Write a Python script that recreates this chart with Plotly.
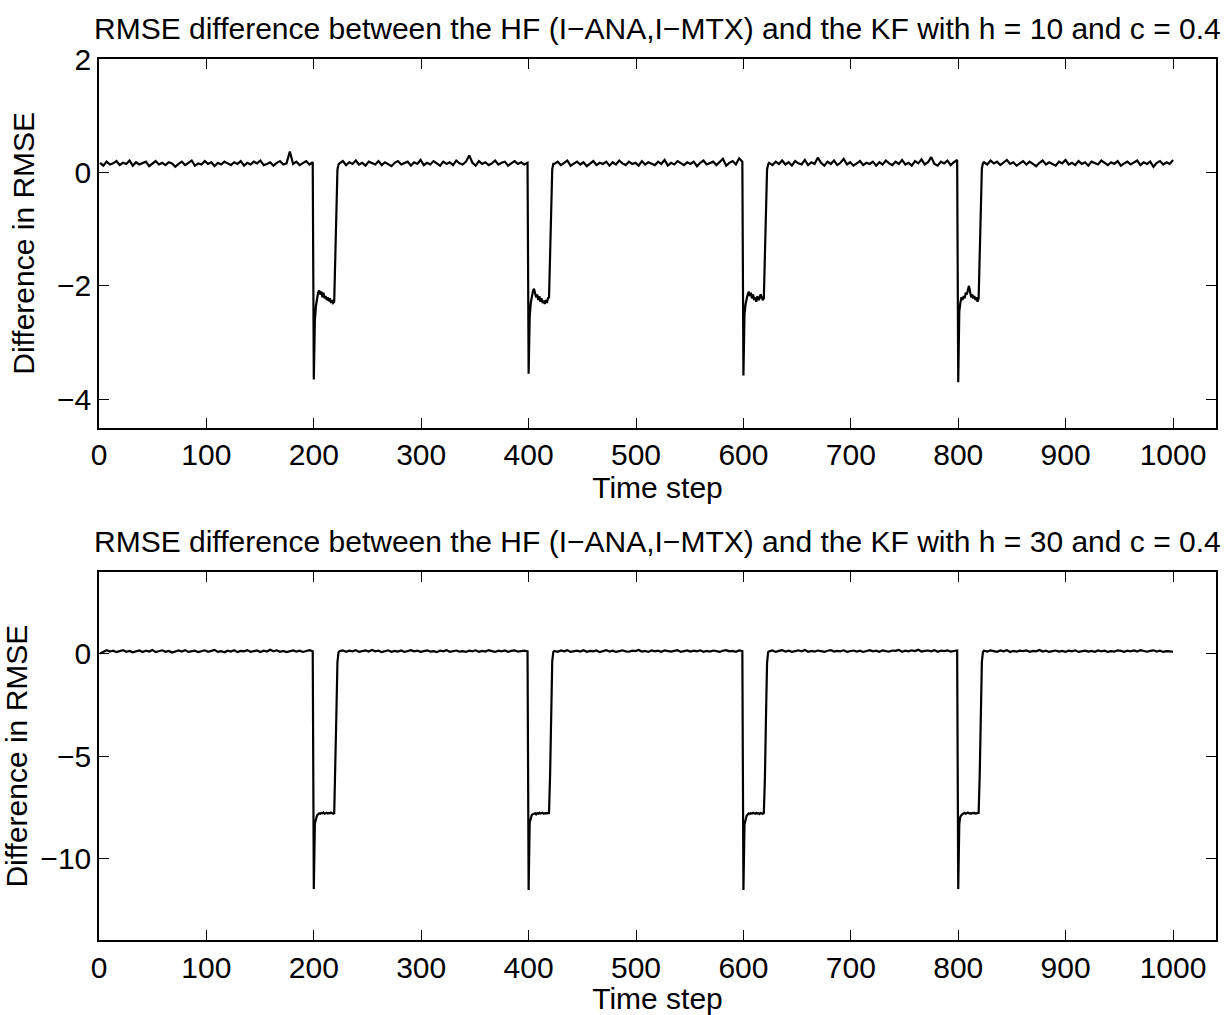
import numpy as np
import plotly.graph_objects as go

# ---------------- data ----------------
# Top panel: h = 10, c = 0.4
top_base_0 = [0.17,0.12,0.19,0.14,0.16,0.20,0.13,0.17,0.15,0.21,0.12,0.18,0.14,0.16,0.19,0.11,0.15,0.20,0.14,0.17,
              0.13,0.18,0.16,0.10,0.15,0.19,0.13,0.17,0.21,0.12,0.16,0.14,0.20,0.15,0.18,0.11,0.17,0.14,0.19,0.16,
              0.13,0.18,0.15,0.20,0.12,0.17,0.14,0.19,0.16,0.21,0.13,0.15,0.18,0.12,0.17,0.20,0.14,0.16,0.37,0.15,
              0.19,0.13,0.17,0.20,0.14,0.18]
top_dip_200 = [-3.65,-2.60,-2.35,-2.20,-2.12,-2.08,-2.15,-2.10,-2.20,-2.12,-2.22,-2.18,-2.25,-2.20,-2.27,-2.22,
               -2.30,-2.25,-2.30,-2.28,-1.50,-0.55,0.05,0.14]
top_base_1 = [0.16,0.20,0.13,0.18,0.15,0.21,0.14,0.17,0.12,0.19,0.16,0.14,0.20,0.13,0.18,0.15,0.11,0.17,0.20,0.14,
              0.16,0.19,0.12,0.18,0.15,0.22,0.13,0.17,0.14,0.20,0.16,0.12,0.19,0.15,0.18,0.13,0.21,0.16,0.14,0.19,
              0.30,0.17,0.12,0.20,0.15,0.18,0.13,0.16,0.21,0.14,0.17,0.19,0.12,0.16,0.20,0.15,0.18,0.14,0.17]
top_dip_400 = [-3.55,-2.55,-2.30,-2.18,-2.10,-2.05,-2.12,-2.20,-2.15,-2.25,-2.18,-2.28,-2.22,-2.30,-2.26,-2.32,
               -2.25,-2.30,-2.22,-2.20,-1.45,-0.50,0.06,0.15]
top_base_2 = [0.15,0.19,0.13,0.17,0.21,0.12,0.16,0.19,0.14,0.18,0.11,0.16,0.20,0.13,0.17,0.15,0.19,0.12,0.18,0.14,
              0.21,0.16,0.13,0.19,0.15,0.17,0.12,0.20,0.14,0.18,0.16,0.13,0.19,0.15,0.22,0.12,0.17,0.14,0.20,0.16,
              0.13,0.18,0.15,0.19,0.11,0.17,0.21,0.14,0.16,0.19,0.13,0.18,0.24,0.12,0.17,0.20,0.14,0.25,0.19]
top_dip_600 = [-3.58,-2.50,-2.32,-2.22,-2.15,-2.10,-2.18,-2.12,-2.22,-2.15,-2.25,-2.20,-2.28,-2.18,-2.25,-2.22,
               -2.15,-2.20,-2.25,-2.22,-1.48,-0.52,0.05,0.14]
top_base_3 = [0.17,0.13,0.19,0.15,0.21,0.14,0.18,0.12,0.20,0.16,0.14,0.22,0.13,0.18,0.15,0.26,0.17,0.12,0.19,0.15,
              0.21,0.13,0.17,0.24,0.14,0.18,0.12,0.16,0.20,0.13,0.17,0.15,0.19,0.12,0.18,0.14,0.21,0.16,0.13,0.19,
              0.15,0.22,0.14,0.17,0.12,0.20,0.16,0.23,0.14,0.18,0.27,0.15,0.12,0.19,0.16,0.21,0.13,0.18,0.22]
top_dip_800 = [-3.70,-2.45,-2.30,-2.20,-2.25,-2.18,-2.22,-2.12,-2.15,-2.05,-2.00,-2.10,-2.20,-2.15,-2.22,-2.18,
               -2.25,-2.20,-2.28,-2.22,-1.45,-0.50,0.07,0.16]
top_base_4 = [0.18,0.14,0.21,0.16,0.19,0.13,0.17,0.22,0.15,0.18,0.12,0.16,0.20,0.14,0.19,0.15,0.11,0.17,0.21,0.14,
              0.18,0.15,0.12,0.19,0.16,0.22,0.14,0.17,0.13,0.20,0.15,0.18,0.12,0.19,0.16,0.14,0.21,0.17,0.13,0.18,
              0.15,0.20,0.12,0.16,0.19,0.14,0.17,0.21,0.13,0.18,0.15,0.19,0.10,0.17,0.20,0.14,0.18,0.15,0.22]

# Bottom panel: h = 30, c = 0.4
bot_base_0 = [0.02,0.10,0.18,0.12,0.16,0.09,0.14,0.19,0.11,0.15,0.08,0.13,0.17,0.10,0.16,0.12,0.20,0.09,0.14,0.18,
              0.11,0.15,0.07,0.13,0.17,0.12,0.19,0.10,0.14,0.16,0.09,0.13,0.18,0.11,0.15,0.20,0.10,0.14,0.08,0.16,
              0.12,0.18,0.09,0.15,0.13,0.19,0.11,0.14,0.17,0.10,0.16,0.12,0.21,0.13,0.18,0.11,0.15,0.09,0.14,0.17,
              0.12,0.16,0.10,0.15,0.19,0.13]
bot_dip_200 = [-11.50,-8.30,-8.00,-7.90,-7.85,-7.80,-7.82,-7.78,-7.80,-7.76,-7.82,-7.79,-7.77,-7.81,-7.78,-7.80,
               -7.76,-7.79,-7.82,-7.80,-6.00,-3.00,-0.40,0.08]
bot_base_1 = [0.14,0.18,0.11,0.16,0.13,0.19,0.10,0.15,0.17,0.12,0.20,0.13,0.16,0.09,0.14,0.18,0.11,0.15,0.12,0.17,
              0.10,0.14,0.19,0.13,0.16,0.11,0.15,0.18,0.12,0.14,0.09,0.16,0.13,0.19,0.11,0.15,0.17,0.12,0.14,0.10,
              0.16,0.13,0.18,0.11,0.15,0.12,0.19,0.14,0.10,0.16,0.13,0.17,0.11,0.15,0.18,0.12,0.14,0.16,0.13]
bot_dip_400 = [-11.55,-8.25,-7.98,-7.88,-7.84,-7.82,-7.80,-7.85,-7.79,-7.82,-7.78,-7.81,-7.80,-7.77,-7.82,-7.79,
               -7.81,-7.78,-7.80,-7.79,-5.90,-2.90,-0.35,0.10]
bot_base_2 = [0.15,0.11,0.17,0.13,0.19,0.10,0.14,0.16,0.12,0.18,0.11,0.15,0.13,0.17,0.09,0.14,0.19,0.12,0.16,0.10,
              0.15,0.18,0.13,0.11,0.16,0.14,0.20,0.12,0.15,0.10,0.17,0.13,0.16,0.11,0.18,0.14,0.12,0.15,0.19,0.10,
              0.14,0.17,0.12,0.16,0.13,0.18,0.11,0.15,0.12,0.17,0.14,0.10,0.16,0.19,0.13,0.15,0.11,0.17,0.14]
bot_dip_600 = [-11.55,-8.35,-8.05,-7.92,-7.86,-7.80,-7.83,-7.79,-7.81,-7.77,-7.80,-7.82,-7.78,-7.81,-7.79,-7.83,
               -7.78,-7.80,-7.82,-7.79,-6.10,-3.10,-0.45,0.09]
bot_base_3 = [0.13,0.17,0.10,0.15,0.19,0.12,0.16,0.11,0.14,0.18,0.13,0.20,0.11,0.15,0.12,0.17,0.14,0.10,0.16,0.19,
              0.12,0.15,0.13,0.18,0.11,0.14,0.17,0.12,0.16,0.10,0.15,0.19,0.13,0.16,0.11,0.18,0.14,0.12,0.17,0.15,
              0.20,0.11,0.16,0.13,0.18,0.14,0.21,0.12,0.15,0.17,0.13,0.19,0.11,0.16,0.14,0.18,0.12,0.15,0.17]
bot_dip_800 = [-11.50,-8.30,-7.95,-7.88,-7.83,-7.81,-7.78,-7.82,-7.80,-7.76,-7.80,-7.79,-7.82,-7.78,-7.80,-7.77,
               -7.81,-7.79,-7.80,-7.78,-5.95,-2.95,-0.40,0.10]
bot_base_4 = [0.16,0.12,0.18,0.14,0.11,0.17,0.13,0.19,0.10,0.15,0.12,0.16,0.14,0.18,0.11,0.15,0.13,0.20,0.12,0.16,
              0.10,0.14,0.17,0.12,0.15,0.11,0.16,0.13,0.18,0.10,0.14,0.16,0.12,0.15,0.11,0.17,0.13,0.16,0.10,0.14,
              0.12,0.18,0.15,0.11,0.16,0.13,0.17,0.12,0.19,0.14,0.11,0.15,0.18,0.12,0.16,0.10,0.14,0.13,0.11]

# time-step spans of each baseline stretch, and start step of each dip
base_spans = [(1, 199), (224, 399), (424, 599), (624, 799), (824, 1000)]
dip_starts = [200, 400, 600, 800]

x_ticks = list(range(0, 1001, 100))
top_y_ticks = [-4, -2, 0, 2]
bot_y_ticks = [-10, -5, 0]

title_top = "RMSE difference between the HF (I\u2212ANA,I\u2212MTX) and the KF with h = 10 and c = 0.4"
title_bot = "RMSE difference between the HF (I\u2212ANA,I\u2212MTX) and the KF with h = 30 and c = 0.4"


def assemble(bases, dips):
    xs, ys = [], []
    for i, (s, e) in enumerate(base_spans):
        b = bases[i]
        xs.extend(np.linspace(s, e, len(b)).tolist())
        ys.extend(b)
        if i < len(dips):
            d = dips[i]
            xs.extend(list(range(dip_starts[i], dip_starts[i] + len(d))))
            ys.extend(d)
    return xs, ys


xt, yt = assemble([top_base_0, top_base_1, top_base_2, top_base_3, top_base_4],
                  [top_dip_200, top_dip_400, top_dip_600, top_dip_800])
xb, yb = assemble([bot_base_0, bot_base_1, bot_base_2, bot_base_3, bot_base_4],
                  [bot_dip_200, bot_dip_400, bot_dip_600, bot_dip_800])

FONT = "Liberation Sans, Arial, Helvetica, sans-serif"
FS = 30

fig = go.Figure()
fig.add_trace(go.Scatter(x=xt, y=yt, mode="lines", line=dict(color="black", width=2.2),
                         xaxis="x", yaxis="y", showlegend=False))
fig.add_trace(go.Scatter(x=xb, y=yb, mode="lines", line=dict(color="black", width=2.2),
                         xaxis="x2", yaxis="y2", showlegend=False))

TOP_DOM = [0.5815, 1.0]
BOT_DOM = [0.0, 0.4174]

common_x = dict(range=[0, 1040], tickvals=x_ticks, ticks="inside", ticklen=10, tickwidth=1,
                tickcolor="black", showline=True, linecolor="black", linewidth=1.5, mirror="ticks",
                showgrid=False, zeroline=False, tickfont=dict(family=FONT, size=FS, color="black"),
                title=dict(text="Time step", font=dict(family=FONT, size=FS, color="black"), standoff=0),
                automargin=False)
common_y = dict(ticks="inside", ticklen=10, tickwidth=1, tickcolor="black", showline=True,
                linecolor="black", linewidth=1.5, mirror="ticks", showgrid=False, zeroline=False,
                tickfont=dict(family=FONT, size=FS, color="black"),
                title=dict(text="Difference in RMSE", font=dict(family=FONT, size=FS, color="black"),
                           standoff=14),
                automargin=False)

fig.update_layout(
    width=1228, height=1015,
    margin=dict(l=99, r=12, t=59, b=75),
    paper_bgcolor="white", plot_bgcolor="white",
    font=dict(family=FONT, size=FS, color="black"),
    xaxis=dict(domain=[0, 1], anchor="y", **common_x),
    yaxis=dict(domain=TOP_DOM, anchor="x", range=[-4.5, 2], tickvals=top_y_ticks, **common_y),
    xaxis2=dict(domain=[0, 1], anchor="y2", **common_x),
    yaxis2=dict(domain=BOT_DOM, anchor="x2", range=[-14, 4], tickvals=bot_y_ticks, **common_y),
    annotations=[
        dict(text=title_top, x=0.5, y=TOP_DOM[1], xref="paper", yref="paper", xanchor="center",
             yanchor="bottom", yshift=12, showarrow=False, font=dict(family=FONT, size=FS, color="black")),
        dict(text=title_bot, x=0.5, y=BOT_DOM[1], xref="paper", yref="paper", xanchor="center",
             yanchor="bottom", yshift=12, showarrow=False, font=dict(family=FONT, size=FS, color="black")),
    ],
)

fig.write_html("out.html", config={"displayModeBar": False},
               post_script="document.body.style.margin='0px';document.body.style.overflow='hidden';")
